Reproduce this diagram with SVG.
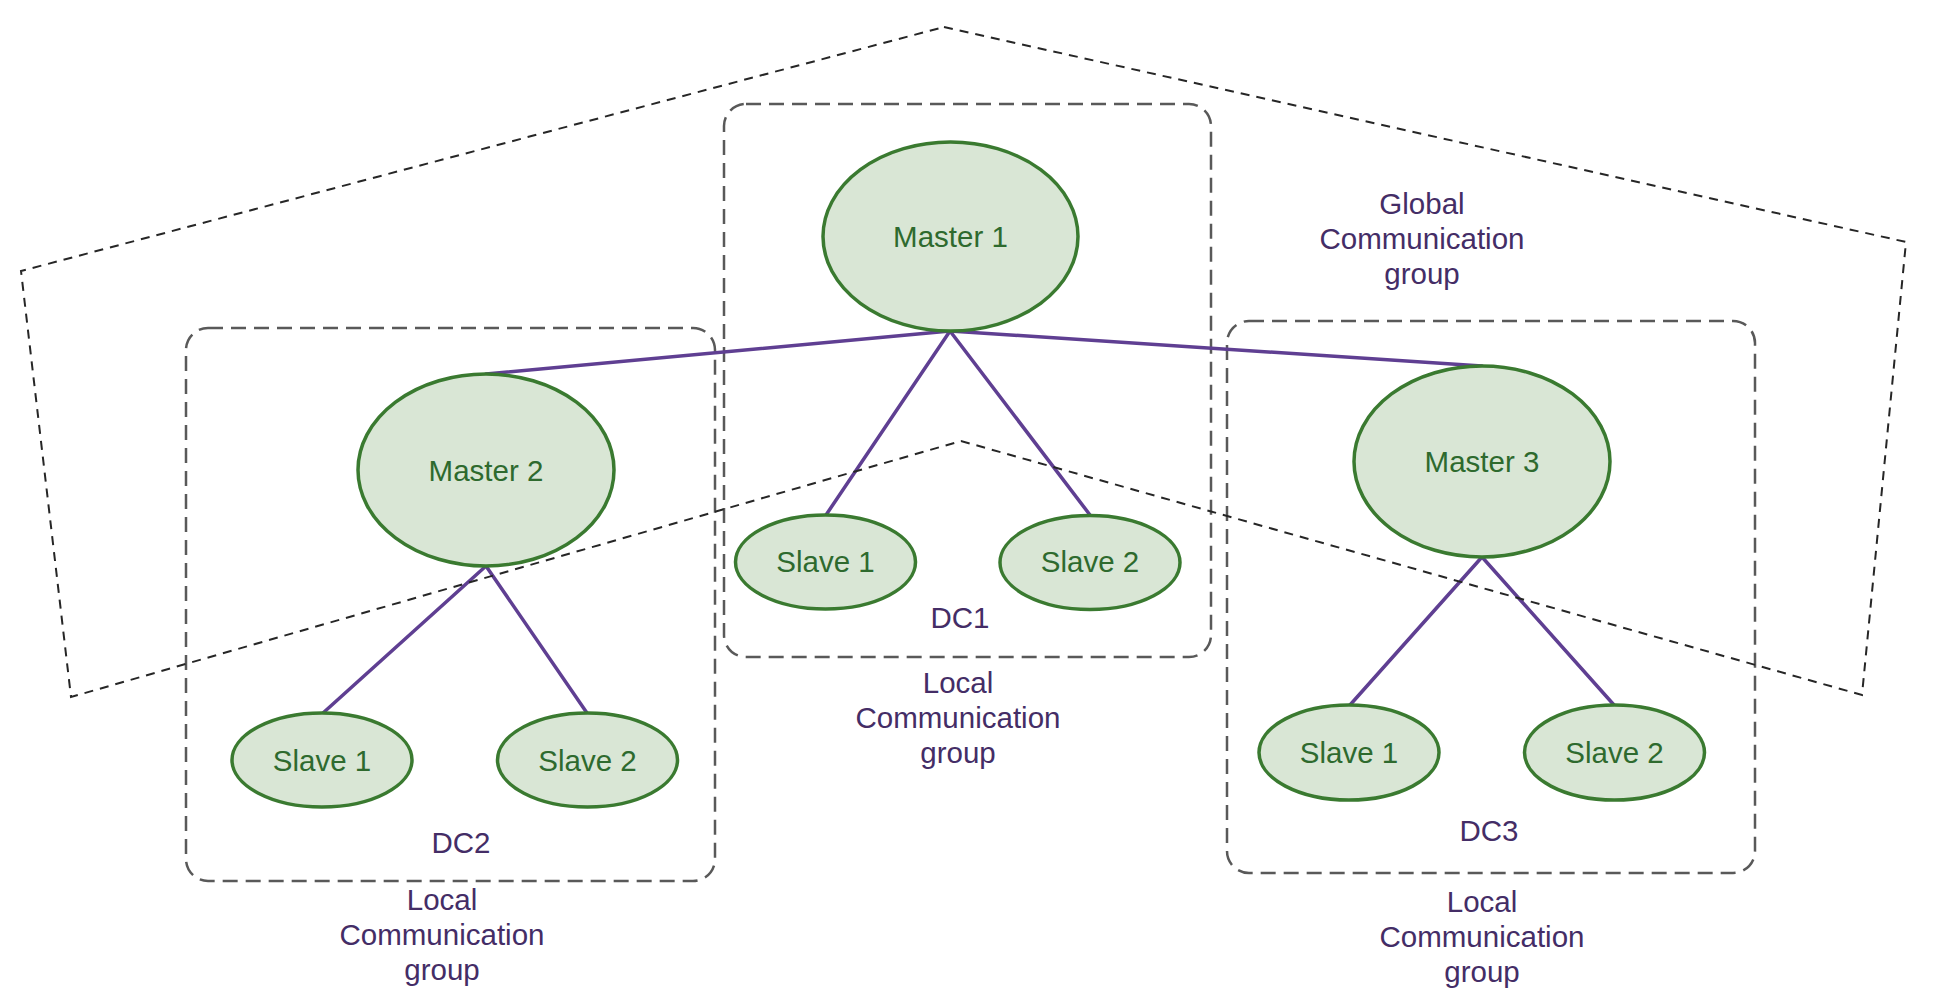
<svg xmlns="http://www.w3.org/2000/svg" width="1940" height="1000" viewBox="0 0 1940 1000">
<style>
.bg{fill:#ffffff}
.box{fill:none;stroke:#595959;stroke-width:2.5;stroke-dasharray:15 8}
.glob{fill:none;stroke:#262626;stroke-width:2;stroke-dasharray:9 7}
.node{fill:#d9e6d5;stroke:#3a7a30;stroke-width:3.5}
.ntext{font-family:"Liberation Sans",Arial,sans-serif;font-size:29.5px;fill:#2e6a2e;text-anchor:middle}
.label{font-family:"Liberation Sans",Arial,sans-serif;font-size:29.5px;fill:#442d66;text-anchor:middle}
.edge{stroke:#5f3f92;stroke-width:3.5;fill:none;stroke-linecap:round}
</style>
<rect class="bg" x="0" y="0" width="1940" height="1000"/>

<g id="dc1-group">
<rect class="box" x="724" y="104" width="487" height="553" rx="22" ry="22"/>
<text class="label" x="960" y="628">DC1</text>
<text class="label" x="958" y="693">Local</text>
<text class="label" x="958" y="728">Communication</text>
<text class="label" x="958" y="763">group</text>
</g>
<g id="dc2-group">
<rect class="box" x="186" y="328" width="529" height="553" rx="22" ry="22"/>
<text class="label" x="461" y="853">DC2</text>
<text class="label" x="442" y="910">Local</text>
<text class="label" x="442" y="945">Communication</text>
<text class="label" x="442" y="980">group</text>
</g>
<g id="dc3-group">
<rect class="box" x="1227" y="321" width="528" height="552" rx="22" ry="22"/>
<text class="label" x="1489" y="841">DC3</text>
<text class="label" x="1482" y="912">Local</text>
<text class="label" x="1482" y="947">Communication</text>
<text class="label" x="1482" y="982">group</text>
</g>

<g id="connectors">
<line class="edge" x1="950" y1="331" x2="486" y2="374"/>
<line class="edge" x1="950" y1="331" x2="1482" y2="366"/>
<line class="edge" x1="950" y1="331" x2="826" y2="515"/>
<line class="edge" x1="950" y1="331" x2="1090" y2="515"/>
<line class="edge" x1="486" y1="566" x2="323" y2="713"/>
<line class="edge" x1="486" y1="566" x2="587" y2="713"/>
<line class="edge" x1="1482" y1="557" x2="1350" y2="705"/>
<line class="edge" x1="1482" y1="557" x2="1614" y2="705"/>
</g>

<g id="master1">
<ellipse class="node" cx="950.5" cy="236.5" rx="127.5" ry="94.5"/>
<text class="ntext" x="950.5" y="247">Master 1</text>
</g>
<g id="dc1-slave1">
<ellipse class="node" cx="825.5" cy="562" rx="90" ry="47"/>
<text class="ntext" x="825.5" y="572">Slave 1</text>
</g>
<g id="dc1-slave2">
<ellipse class="node" cx="1090" cy="562.5" rx="90" ry="47"/>
<text class="ntext" x="1090" y="572">Slave 2</text>
</g>
<g id="master2">
<ellipse class="node" cx="486" cy="470" rx="128" ry="96"/>
<text class="ntext" x="486" y="481">Master 2</text>
</g>
<g id="dc2-slave1">
<ellipse class="node" cx="322" cy="760" rx="90" ry="47"/>
<text class="ntext" x="322" y="771">Slave 1</text>
</g>
<g id="dc2-slave2">
<ellipse class="node" cx="587.5" cy="760" rx="90" ry="47"/>
<text class="ntext" x="587.5" y="771">Slave 2</text>
</g>
<g id="master3">
<ellipse class="node" cx="1482" cy="461.5" rx="128" ry="95.5"/>
<text class="ntext" x="1482" y="472">Master 3</text>
</g>
<g id="dc3-slave1">
<ellipse class="node" cx="1349" cy="752.5" rx="90" ry="47.5"/>
<text class="ntext" x="1349" y="763">Slave 1</text>
</g>
<g id="dc3-slave2">
<ellipse class="node" cx="1614.5" cy="752.5" rx="90" ry="47.5"/>
<text class="ntext" x="1614.5" y="763">Slave 2</text>
</g>

<g id="global-group">
<polygon class="glob" points="944,27 1906,242 1862,695 961,441 71,697 21,271"/>
<text class="label" x="1422" y="214">Global</text>
<text class="label" x="1422" y="249">Communication</text>
<text class="label" x="1422" y="284">group</text>
</g>
</svg>
